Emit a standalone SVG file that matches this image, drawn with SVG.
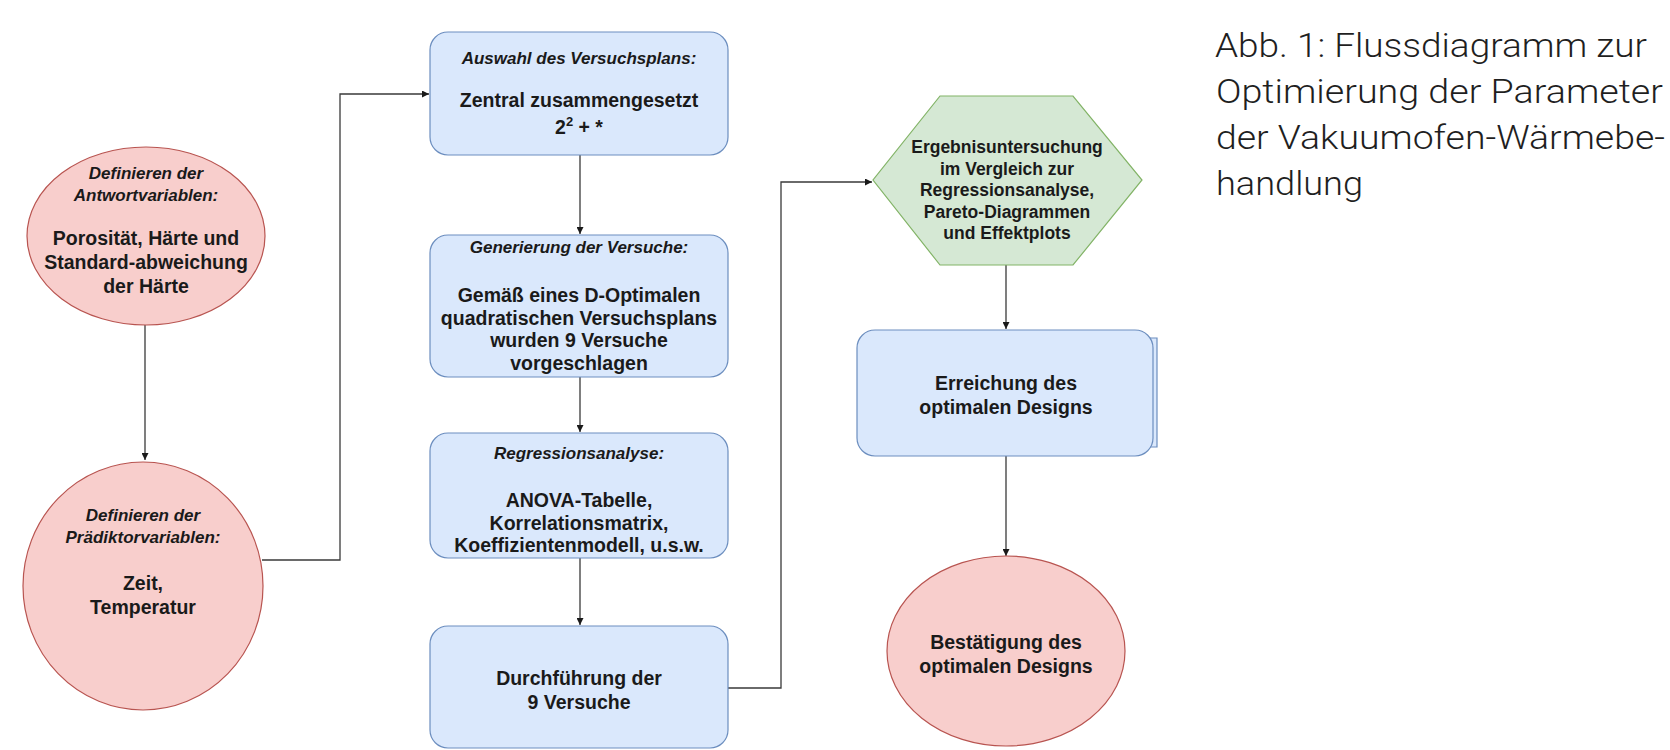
<svg xmlns="http://www.w3.org/2000/svg" width="1670" height="750" viewBox="0 0 1670 750">
<defs>
<style>
.pink{fill:#f8cecc;stroke:#b85450;stroke-width:1.2}
.blue{fill:#dae8fc;stroke:#6c8ebf;stroke-width:1.2}
.green{fill:#d5e8d4;stroke:#82b366;stroke-width:1.2}
.hd{font-family:"Liberation Sans",Arial,sans-serif;font-weight:bold;font-style:italic;font-size:17px;fill:#1a1a1a;text-anchor:middle}
.bd{font-family:"Liberation Sans",Arial,sans-serif;font-weight:bold;font-size:19.5px;fill:#1a1a1a;text-anchor:middle}
.hx{font-family:"Liberation Sans",Arial,sans-serif;font-weight:bold;font-size:17.5px;fill:#1a1a1a;text-anchor:middle}
.cap{font-family:Roboto,"Liberation Sans",sans-serif;font-weight:300;font-size:34px;fill:#1f1f1f}
.edge{fill:none;stroke:#3a3a3a;stroke-width:1.3}
</style>
<marker id="arr" viewBox="0 0 10 10" refX="10" refY="5" markerWidth="7" markerHeight="7" markerUnits="userSpaceOnUse" orient="auto">
<path d="M0,0 L10,5 L0,10 z" fill="#1a1a1a"/>
</marker>
</defs>
<rect width="1670" height="750" fill="#ffffff"/>

<g id="connectors">
<path class="edge" d="M145,325 V460" marker-end="url(#arr)"/>
<path class="edge" d="M262,560 H340 V94 H429" marker-end="url(#arr)"/>
<path class="edge" d="M580,155 V234" marker-end="url(#arr)"/>
<path class="edge" d="M580,377 V432" marker-end="url(#arr)"/>
<path class="edge" d="M580,558 V625" marker-end="url(#arr)"/>
<path class="edge" d="M728,688 H781 V182 H872" marker-end="url(#arr)"/>
<path class="edge" d="M1006,265 V329" marker-end="url(#arr)"/>
<path class="edge" d="M1006,456 V556" marker-end="url(#arr)"/>
</g>

<g id="antwortvariablen">
<ellipse class="pink" cx="146" cy="236" rx="119" ry="89"/>
<text class="hd" x="146" y="179">Definieren der</text>
<text class="hd" x="146" y="201">Antwortvariablen:</text>
<text class="bd" x="146" y="245">Porosität, Härte und</text>
<text class="bd" x="146" y="269">Standard-abweichung</text>
<text class="bd" x="146" y="293">der Härte</text>
</g>

<g id="praediktorvariablen">
<ellipse class="pink" cx="143" cy="586" rx="120" ry="124"/>
<text class="hd" x="143" y="521">Definieren der</text>
<text class="hd" x="143" y="543">Prädiktorvariablen:</text>
<text class="bd" x="143" y="590">Zeit,</text>
<text class="bd" x="143" y="614">Temperatur</text>
</g>

<g id="versuchsplan">
<rect class="blue" x="430" y="32" width="298" height="123" rx="18"/>
<text class="hd" x="579" y="64">Auswahl des Versuchsplans:</text>
<text class="bd" x="579" y="107">Zentral zusammengesetzt</text>
<text class="bd" x="579" y="134">2<tspan font-size="13" dy="-8">2</tspan><tspan dy="8"> + *</tspan></text>
</g>

<g id="generierung">
<rect class="blue" x="430" y="235" width="298" height="142" rx="18"/>
<text class="hd" x="579" y="253">Generierung der Versuche:</text>
<text class="bd" x="579" y="302">Gemäß eines D-Optimalen</text>
<text class="bd" x="579" y="325">quadratischen Versuchsplans</text>
<text class="bd" x="579" y="347">wurden 9 Versuche</text>
<text class="bd" x="579" y="370">vorgeschlagen</text>
</g>

<g id="regression">
<rect class="blue" x="430" y="433" width="298" height="125" rx="18"/>
<text class="hd" x="579" y="459">Regressionsanalyse:</text>
<text class="bd" x="579" y="507">ANOVA-Tabelle,</text>
<text class="bd" x="579" y="530">Korrelationsmatrix,</text>
<text class="bd" x="579" y="552">Koeffizientenmodell, u.s.w.</text>
</g>

<g id="durchfuehrung">
<rect class="blue" x="430" y="626" width="298" height="122" rx="18"/>
<text class="bd" x="579" y="685">Durchführung der</text>
<text class="bd" x="579" y="709">9 Versuche</text>
</g>

<g id="ergebnisuntersuchung">
<polygon class="green" points="940,96 1073,96 1142,180 1073,265 940,265 873,180"/>
<text class="hx" x="1007" y="153">Ergebnisuntersuchung</text>
<text class="hx" x="1007" y="175">im Vergleich zur</text>
<text class="hx" x="1007" y="196">Regressionsanalyse,</text>
<text class="hx" x="1007" y="218">Pareto-Diagrammen</text>
<text class="hx" x="1007" y="239">und Effektplots</text>
</g>

<g id="erreichung">
<rect x="1150" y="338" width="7" height="109" fill="#dae8fc" stroke="none"/>
<path d="M1150,338 H1157 V447 H1150" fill="none" stroke="#6c8ebf" stroke-width="1.2"/>
<rect class="blue" x="857" y="330" width="296" height="126" rx="18"/>
<text class="bd" x="1006" y="390">Erreichung des</text>
<text class="bd" x="1006" y="414">optimalen Designs</text>
</g>

<g id="bestaetigung">
<ellipse class="pink" cx="1006" cy="651" rx="119" ry="95"/>
<text class="bd" x="1006" y="649">Bestätigung des</text>
<text class="bd" x="1006" y="673">optimalen Designs</text>
</g>

<g id="caption">
<text class="cap" x="1215" y="57" textLength="432" lengthAdjust="spacingAndGlyphs">Abb. 1: Flussdiagramm zur</text>
<text class="cap" x="1216" y="103" textLength="447" lengthAdjust="spacingAndGlyphs">Optimierung der Parameter</text>
<text class="cap" x="1216" y="149" textLength="449" lengthAdjust="spacingAndGlyphs">der Vakuumofen-Wärmebe-</text>
<text class="cap" x="1216" y="195" textLength="147" lengthAdjust="spacingAndGlyphs">handlung</text>
</g>
</svg>
